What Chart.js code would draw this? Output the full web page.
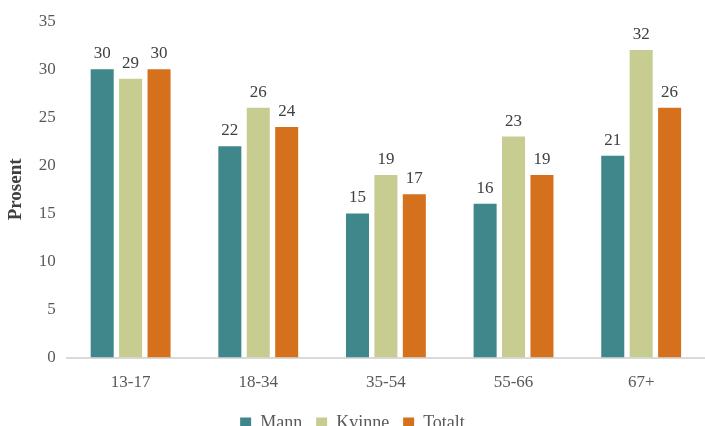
<!DOCTYPE html>
<html>
<head>
<meta charset="utf-8">
<script src="https://cdn.jsdelivr.net/npm/chart.js@4/dist/chart.umd.min.js"></script>
<style>
  html, body { margin: 0; padding: 0; background: #fff; }
  #wrap { width: 705px; height: 426px; }
</style>
</head>
<body>
<div id="wrap"><canvas id="chart"></canvas></div>
<script>
const categories = ['13-17', '18-34', '35-54', '55-66', '67+'];
const mann = [30, 22, 15, 16, 21];
const kvinne = [29, 26, 19, 23, 32];
const totalt = [30, 24, 17, 19, 26];
const yTicks = [0, 5, 10, 15, 20, 25, 30, 35];

const serif = "'Liberation Serif', 'DejaVu Serif', serif";

// draws the value above each bar
const valueLabels = {
  id: 'valueLabels',
  afterDatasetsDraw(chart) {
    const ctx = chart.ctx;
    ctx.save();
    ctx.font = '17px ' + serif;
    ctx.fillStyle = '#404040';
    ctx.textAlign = 'center';
    ctx.textBaseline = 'bottom';
    chart.data.datasets.forEach((ds, i) => {
      chart.getDatasetMeta(i).data.forEach((bar, j) => {
        ctx.fillText(ds.data[j], bar.x, bar.y - 7);
      });
    });
    ctx.restore();
  }
};

new Chart(document.getElementById('chart').getContext('2d'), {
  type: 'bar',
  data: {
    labels: categories,
    datasets: [
      { label: 'Mann', data: mann, backgroundColor: '#3F878A' },
      { label: 'Kvinne', data: kvinne, backgroundColor: '#C7CD90' },
      { label: 'Totalt', data: totalt, backgroundColor: '#D5711C' }
    ]
  },
  options: {
    responsive: true,
    maintainAspectRatio: false,
    animation: false,
    layout: { padding: { top: 8, right: 0, left: 0, bottom: -16 } },
    datasets: {
      bar: { categoryPercentage: 0.668, barPercentage: 0.81 }
    },
    scales: {
      x: {
        grid: { display: false, drawTicks: false },
        border: { display: true, color: '#D9D9D9', width: 2 },
        ticks: { color: '#595959', font: { family: serif, size: 17 }, padding: 15 },
        afterFit(scale) { scale.height -= 8; } // pull the legend up closer to the labels
      },
      y: {
        min: 0,
        max: 35,
        afterBuildTicks(axis) { axis.ticks = yTicks.map(v => ({ value: v })); },
        grid: { display: false, drawTicks: false },
        border: { display: false },
        ticks: { color: '#595959', font: { family: serif, size: 17 }, padding: 11 },
        title: {
          display: true,
          text: 'Prosent',
          color: '#404040',
          font: { family: serif, size: 19, weight: 'bold' },
          padding: { top: 5, bottom: 0 }
        }
      }
    },
    plugins: {
      legend: {
        position: 'bottom',
        labels: {
          color: '#595959',
          font: { family: serif, size: 18 },
          boxWidth: 11,
          boxHeight: 11,
          padding: 14
        }
      },
      tooltip: { enabled: false }
    }
  },
  plugins: [valueLabels]
});
</script>
</body>
</html>
